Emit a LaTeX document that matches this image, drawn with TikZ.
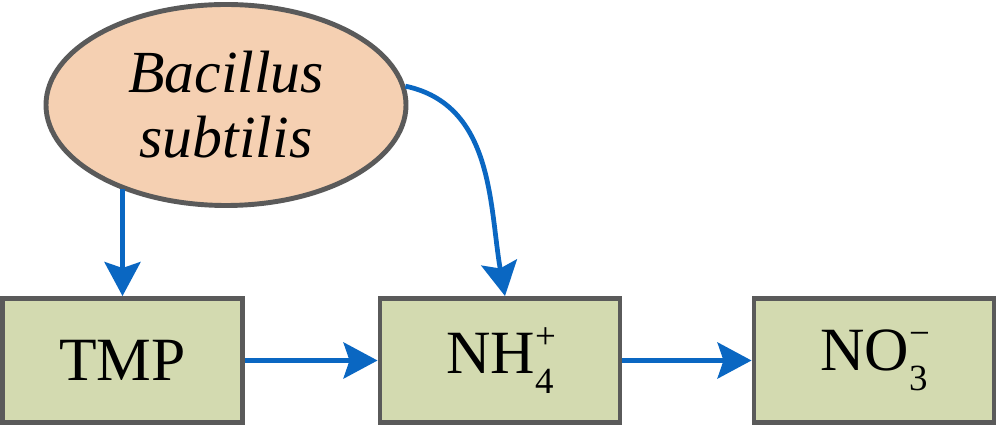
\documentclass[tikz,border=0pt]{standalone}
\usepackage{fontspec}
\setmainfont{Liberation Serif}[ItalicFont={Liberation Serif Italic}]
\usetikzlibrary{shapes.geometric,arrows.meta}
\definecolor{cellpeach}{HTML}{F5D0B2}
\definecolor{cellgreen}{HTML}{D3DAB0}
\definecolor{rimgray}{HTML}{5A5A5A}
\definecolor{flowblue}{HTML}{0A67C2}
% ion with a stacked sub- and superscript
\newcommand{\ion}[3]{#1\rlap{\raisebox{0.42em}{\fontsize{21}{21}\selectfont #3}}\raisebox{-0.32em}{\fontsize{21}{21}\selectfont #2}}
\begin{document}
\begin{tikzpicture}[
    cell/.style={ellipse,draw=rimgray,line width=2.8pt,fill=cellpeach,inner sep=0pt,
                 minimum width=7.2cm,minimum height=4.02cm,align=center,
                 font=\fontsize{34}{37}\selectfont\itshape},
    stage/.style={draw=rimgray,line width=2.8pt,fill=cellgreen,
                  minimum width=4.8cm,minimum height=2.48cm,
                  font=\fontsize{35}{40}\selectfont},
    flow/.style={draw=flowblue,line width=2.7pt,
                 -{Stealth[length=0.68cm,width=0.72cm,inset=0.12cm]}}]
  \useasboundingbox (0,0) rectangle (20,8.58);
  \node[cell]  (bac) at ( 4.52, 6.48) {Bacillus\\subtilis};
  \node[stage] (tmp) at ( 2.45, 1.37) {TMP};
  \node[stage] (nh4) at (10.00, 1.37) {\ion{NH}{4}{+}};
  \node[stage] (no3) at (17.48, 1.37) {\ion{NO}{3}{−}};
  \draw[flow] (bac.219 -| tmp.north) -- (tmp.north);
  \draw[flow] (bac.6) to[out=-12,in=100] ([xshift=0.1cm]nh4.north);
  \draw[flow] (tmp.east) -- (nh4.west);
  \draw[flow] (nh4.east) -- (no3.west);
\end{tikzpicture}
\end{document}
